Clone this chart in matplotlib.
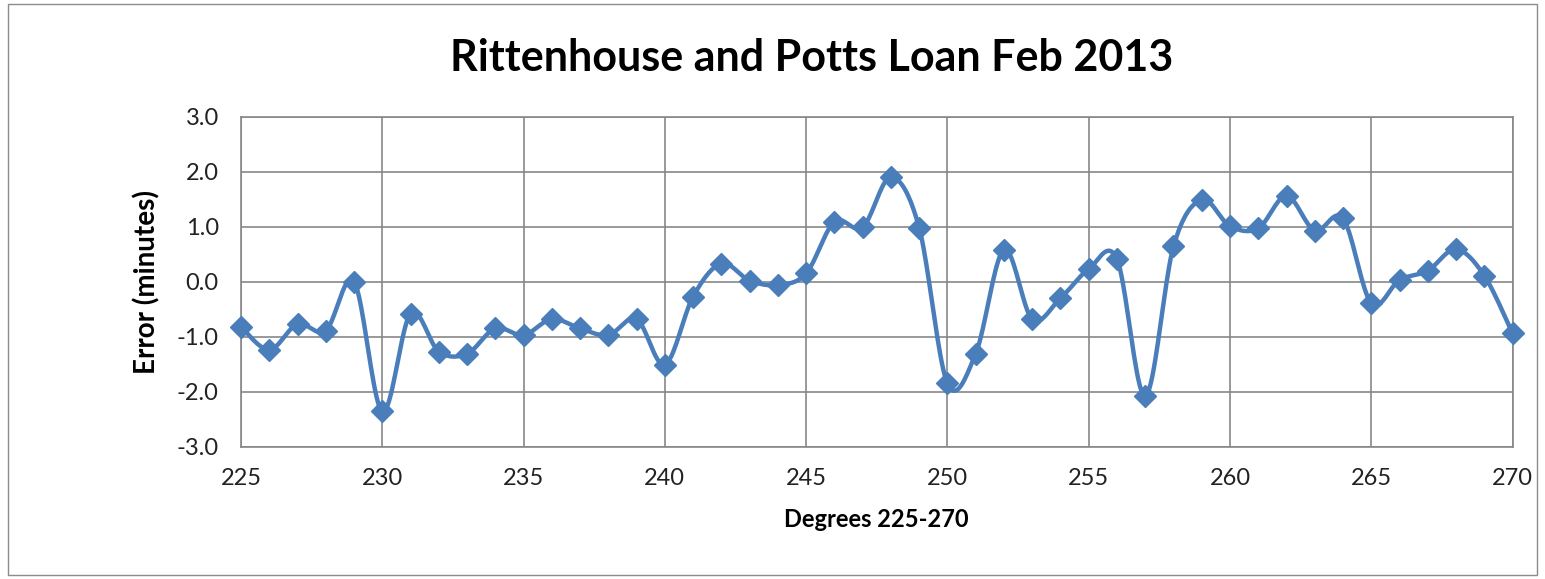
import matplotlib.pyplot as plt
import numpy as np
from matplotlib.patches import Rectangle

degrees = list(range(225, 271))
error = [-0.82, -1.24, -0.77, -0.89, 0.00, -2.36, -0.58, -1.27, -1.31, -0.85,
         -0.97, -0.68, -0.85, -0.97, -0.68, -1.51, -0.27, 0.33, 0.02, -0.06,
         0.15, 1.09, 0.99, 1.90, 0.98, -1.85, -1.31, 0.58, -0.68, -0.30,
         0.23, 0.41, -2.08, 0.64, 1.49, 1.01, 0.97, 1.56, 0.93, 1.15,
         -0.39, 0.03, 0.20, 0.59, 0.11, -0.94]
xticks = [225, 230, 235, 240, 245, 250, 255, 260, 265, 270]
yticks = [-3.0, -2.0, -1.0, 0.0, 1.0, 2.0, 3.0]


# smoothed line like Excel (Catmull-Rom through the points)
def smooth(x, y, n=20):
    x = np.asarray(x, float)
    y = np.asarray(y, float)
    px = np.concatenate([[x[0]], x, [x[-1]]])
    py = np.concatenate([[y[0]], y, [y[-1]]])
    xs, ys = [], []
    t = np.linspace(0, 1, n, endpoint=False)
    for i in range(1, len(px) - 2):
        p0, p1, p2, p3 = px[i-1], px[i], px[i+1], px[i+2]
        q0, q1, q2, q3 = py[i-1], py[i], py[i+1], py[i+2]
        c1x, c1y = p1 + (p2 - p0) / 6, q1 + (q2 - q0) / 6
        c2x, c2y = p2 - (p3 - p1) / 6, q2 - (q3 - q1) / 6
        bx = (1-t)**3*p1 + 3*(1-t)**2*t*c1x + 3*(1-t)*t**2*c2x + t**3*p2
        by = (1-t)**3*q1 + 3*(1-t)**2*t*c1y + 3*(1-t)*t**2*c2y + t**3*q2
        xs.extend(bx)
        ys.extend(by)
    xs.append(x[-1])
    ys.append(y[-1])
    return xs, ys


plt.rcParams['font.family'] = ['Lato', 'DejaVu Sans']

fig = plt.figure(figsize=(15.45, 5.79), dpi=100)
fig.patches.append(Rectangle((0.005, 0.007), 0.99, 0.986, transform=fig.transFigure,
                             fill=False, edgecolor='#8c8c8c', linewidth=1))
ax = fig.add_axes([0.156, 0.2285, 0.823, 0.57])

sx, sy = smooth(degrees, error)
ax.plot(sx, sy, color='#4a7ebb', linewidth=3.2, zorder=3, clip_on=False)
ax.plot(degrees, error, linestyle='none', marker='D', markersize=11,
        color='#4a7ebb', zorder=4, clip_on=False)

ax.set_xlim(225, 270)
ax.set_ylim(-3, 3)
ax.set_xticks(xticks)
ax.set_yticks(yticks)
ax.set_yticklabels(['%.1f' % v for v in yticks])
ax.tick_params(length=0, labelsize=17, colors='#222222')
ax.tick_params(axis='y', pad=16)
ax.tick_params(axis='x', pad=15)
ax.grid(True, color='#878787', linewidth=1.2)
ax.set_axisbelow(True)
for s in ax.spines.values():
    s.set_color('#878787')
    s.set_linewidth(1.2)

ax.set_xlabel('Degrees 225-270', fontsize=17, fontweight='bold', labelpad=14)
ax.set_ylabel('Error (minutes)', fontsize=20, fontweight='bold', labelpad=12)
fig.text(0.525, 0.9, 'Rittenhouse and Potts Loan Feb 2013', ha='center', va='center',
         fontsize=31, fontweight='bold')

fig.savefig('out.png', dpi=100)
